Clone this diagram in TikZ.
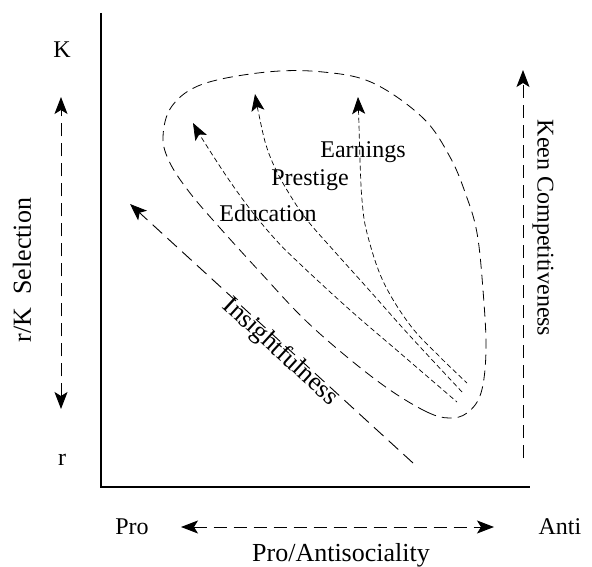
\documentclass[tikz,border=0pt]{standalone}
\usepackage{fontspec}
\setmainfont{Liberation Serif}
\usetikzlibrary{arrows.meta}
\usetikzlibrary{positioning}
\tikzset{>={Stealth[length=17pt,width=13pt,inset=4pt]}}

\begin{document}
\begin{tikzpicture}[x=1pt,y=-1pt,
    lbl/.style={inner sep=0pt, font=\fontsize{24}{27}\selectfont},
    biglbl/.style={inner sep=0pt, font=\fontsize{26}{29}\selectfont},
    bigdash/.style={dash pattern=on 13pt off 7pt, line width=0.9pt},
    loopdash/.style={dash pattern=on 10pt off 6pt, line width=0.8pt},
    finedash/.style={dash pattern=on 5pt off 3pt, line width=0.7pt}]
    \useasboundingbox (0,0) rectangle (592,567);
    % axes
    \coordinate (ytop) at (101,13);
    \coordinate (orig) at (101,487);
    \coordinate (xend) at (530,487);
    \draw[line width=1.2pt] (ytop) -- (orig) -- (xend);

    % r/K axis on the left
    \node[lbl] (K) at (62,50) {K};
    \node[lbl] (r) at (62,460) {r};
    \coordinate (rkup) at (61,97);
    \coordinate (rkdown) at (61,409);
    \draw[bigdash,<->] (rkdown) -- (rkup);
    \node[biglbl,rotate=90] (rksel) at (22,270) {r/K\ \ Selection};

    % pro/anti axis underneath
    \node[lbl] (pro) at (132,527) {Pro};
    \node[lbl] (anti) at (560,527) {Anti};
    \coordinate (proend) at (181,527);
    \coordinate (antiend) at (494,527);
    \draw[bigdash,<->] (proend) -- (antiend);
    \node[biglbl] (prosoc) at (341,555) {Pro/Antisociality};

    % competitiveness
    \coordinate (keenlow) at (523,458);
    \coordinate (keenhigh) at (523,70);
    \draw[bigdash,->] (keenlow) -- (keenhigh);
    \node[lbl,rotate=-90] (keen) at (543,228) {Keen Competitiveness};

    % insightfulness
    \coordinate (inslow) at (413,463);
    \coordinate (inshigh) at (130,204);
    \draw[bigdash,->] (inslow) -- (inshigh);
    \node[biglbl,rotate=-42.5] (insight) at (280,352) {Insightfulness};

    % the loop
    \draw[loopdash] plot[smooth cycle,tension=0.6] coordinates {
        (449,418) (427,412) (390,390) (347,357) (303,318) (260,272)
        (220,228) (190,193) (170,163) (163,137) (172,106) (203,84)
        (267,72) (323,72) (373,83) (423,118) (450,157) (466,195)
        (477,233) (483,290) (486,350) (481,393) (467,413)};

    % education, prestige, earnings
    \draw[finedash,<-] plot[smooth,tension=0.6] coordinates {
        (193,123) (203,140) (227,177) (250,209) (275,239) (300,264)
        (350,310) (400,353) (457,402)};
    \draw[finedash,<-] plot[smooth,tension=0.6] coordinates {
        (255,94) (259,115) (266,145) (276,170) (290,195) (307,220)
        (335,252) (370,291) (410,336) (463,393)};
    \draw[finedash,<-] plot[smooth,tension=0.6] coordinates {
        (358,97) (359,125) (360,160) (362,200) (367,233) (383,281)
        (410,325) (440,357) (467,383)};
    \node[lbl] (educ) at (268,213) {Education};
    \node[lbl] (prest) at (310,180) {Prestige};
    \node[lbl] (earn) at (363,152) {Earnings};
\end{tikzpicture}
\end{document}
